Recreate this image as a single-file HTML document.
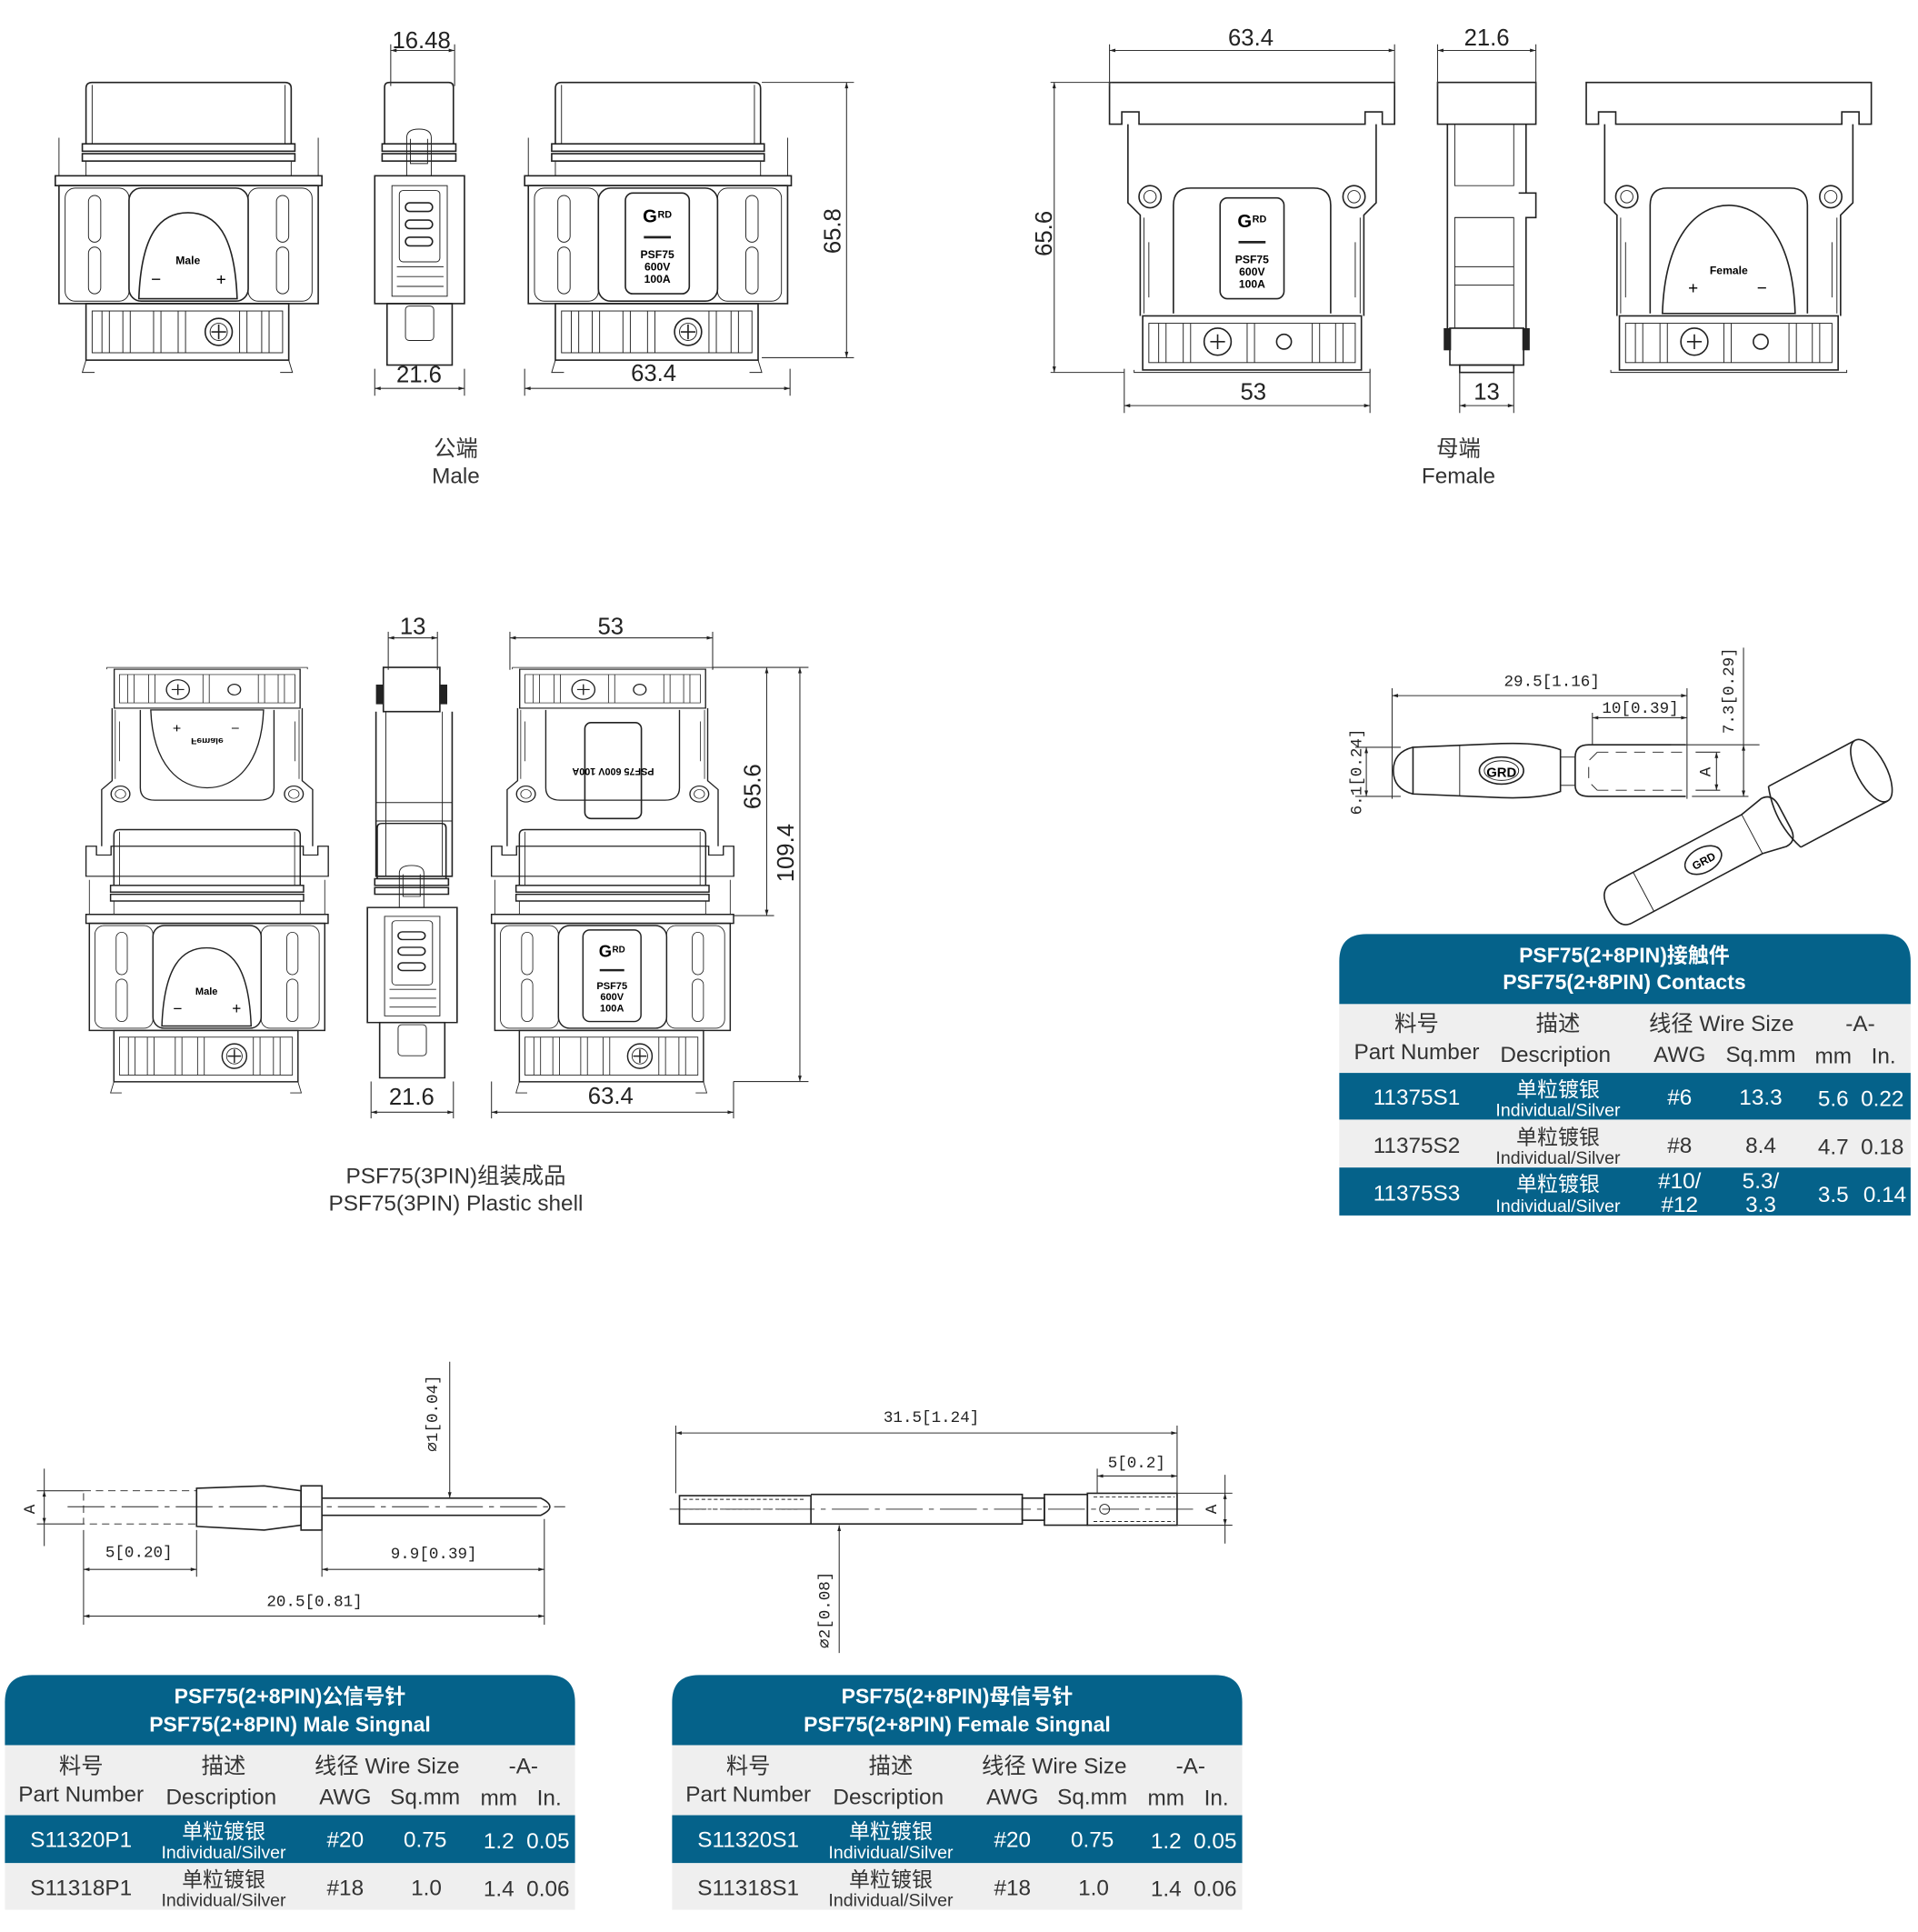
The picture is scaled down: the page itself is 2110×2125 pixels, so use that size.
<!DOCTYPE html>
<html><head><meta charset="utf-8"><style>
html,body{margin:0;padding:0;background:#fff;}
body{width:2110px;height:2125px;overflow:hidden;}
svg{display:block}
.l{fill:none;stroke:#222;stroke-width:1.2}
.t{stroke-width:.7;fill:none;stroke:#222}
.d{stroke:#333;stroke-width:.8;fill:none}
.dt{font-family:"Liberation Sans Narrow","Liberation Sans",sans-serif;font-size:19px;fill:#222;text-anchor:middle}
.st{font-family:"Liberation Mono",monospace;font-size:13px;fill:#222;text-anchor:middle}
.cap{font-family:"Liberation Sans","Noto Sans CJK SC",sans-serif;font-size:18px;fill:#333;text-anchor:middle}
.th{font-family:"Liberation Sans","Noto Sans CJK SC",sans-serif;font-size:17px;font-weight:bold;fill:#fff;text-anchor:middle}
.tg{font-family:"Liberation Sans","Noto Sans CJK SC",sans-serif;font-size:18px;fill:#333;text-anchor:middle}
.tw{font-family:"Liberation Sans","Noto Sans CJK SC",sans-serif;font-size:18px;fill:#fff;text-anchor:middle}
.s1{font-size:17px}.s2{font-size:14.5px}
</style></head><body>
<svg width="2110" height="2125" viewBox="0 0 1561 1572" xmlns="http://www.w3.org/2000/svg">
<defs>
<marker id="a" viewBox="0 0 10 10" refX="10" refY="5" markerWidth="9" markerHeight="6" orient="auto-start-reverse"><path d="M0,2 L10,5 L0,8 Z" fill="#222"/></marker>
<g id="latch">
 <rect x="25" y="180" width="165" height="46" class="l"/>
 <rect x="30" y="186" width="155" height="34" class="t"/>
 <path d="M38,186V220M44,186V220M55,186V220M61,186V220M80,186V220M86,186V220M100,186V220M106,186V220M150,186V220M156,186V220M168,186V220M174,186V220" class="t"/>
 <circle cx="133" cy="203" r="11" class="l"/><circle cx="133" cy="203" r="7" class="t"/>
 <path d="M127,203H139M133,197V209" class="l"/>
 <path d="M25,226L22,236H32M190,226L193,236H183" class="t"/>
</g>
<g id="mbody">
 <path d="M25,50V5Q25,0 30,0H187Q192,0 192,5V50" class="l" stroke-width="1.6"/>
 <path d="M30,2V50M187,2V50" class="t"/>
 <rect x="22" y="50" width="173" height="6" class="l"/><rect x="22" y="58" width="173" height="6" class="l"/>
 <path d="M25,64V76M192,64V76M3,45V76M214,45V76" class="t"/>
 <rect x="0" y="76" width="217" height="8" class="l"/>
 <rect x="3" y="84" width="211" height="96" class="l"/>
 <rect x="8" y="86" width="52" height="92" rx="8" class="t"/>
 <rect x="157" y="86" width="52" height="92" rx="8" class="t"/>
 <rect x="27" y="92" width="10" height="38" rx="5" class="t"/><rect x="27" y="134" width="10" height="38" rx="5" class="t"/>
 <rect x="180" y="92" width="10" height="38" rx="5" class="t"/><rect x="180" y="134" width="10" height="38" rx="5" class="t"/>
 <rect x="60" y="86" width="97" height="92" rx="10" class="l"/>
 <use href="#latch"/>
</g>
<g id="mfront">
 <use href="#mbody"/>
 <path d="M68,176C70,122 86,106 108,106C130,106 146,122 148,176Z" class="l"/>
 <text x="108" y="148" font-family="Liberation Sans" font-size="9" font-weight="bold" text-anchor="middle">Male</text>
 <text x="82" y="165" font-family="Liberation Sans" font-size="14" text-anchor="middle">−</text>
 <text x="135" y="165" font-family="Liberation Sans" font-size="14" text-anchor="middle">+</text>
</g>
<g id="lbl">
 <rect x="0" y="0" width="52" height="82" rx="6" class="l"/>
 <text x="20" y="24" font-family="Liberation Sans" font-size="15" font-weight="bold" text-anchor="middle">G</text>
 <text x="32" y="20" font-family="Liberation Sans" font-size="8" font-weight="bold" text-anchor="middle">RD</text>
 <rect x="15" y="35" width="22" height="2" fill="#222"/>
 <text x="26" y="53" font-family="Liberation Sans" font-size="9" font-weight="bold" text-anchor="middle">PSF75</text>
 <text x="26" y="63" font-family="Liberation Sans" font-size="9" font-weight="bold" text-anchor="middle">600V</text>
 <text x="26" y="73" font-family="Liberation Sans" font-size="9" font-weight="bold" text-anchor="middle">100A</text>
</g>
<g id="mback"><use href="#mbody"/><use href="#lbl" x="82" y="90"/></g>
<g id="mside">
 <path d="M8,50V4Q8,0 12,0H60Q64,0 64,4V50" class="l" stroke-width="1.6"/>
 <rect x="6" y="50" width="60" height="6" class="l"/><rect x="6" y="58" width="60" height="6" class="l"/>
 <path d="M26,76V45Q26,38 36,38Q46,38 46,45V76M29,46V66H43V46" class="t"/>
 <rect x="0" y="76" width="73" height="104" class="l"/>
 <rect x="14" y="84" width="45" height="90" class="t"/>
 <rect x="20" y="88" width="33" height="58" rx="3" class="t"/>
 <rect x="25" y="98" width="22" height="7" rx="3.5" class="l"/><rect x="25" y="112" width="22" height="7" rx="3.5" class="l"/><rect x="25" y="126" width="22" height="7" rx="3.5" class="l"/>
 <path d="M18,150H56M18,158H56M18,166H56" class="t"/>
 <rect x="10" y="180" width="53" height="50" class="l"/>
 <rect x="25" y="182" width="23" height="28" rx="3" class="t"/>
</g>
<g id="fbody">
 <path d="M0,0H232V34H222V24H208V34H24V24H10V34H0Z" class="l"/>
 <path d="M15,34V98L25,108V190M217,34V98L207,108V190" class="l"/>
 <circle cx="33" cy="93" r="9" class="l"/><circle cx="33" cy="93" r="5" class="t"/>
 <circle cx="199" cy="93" r="9" class="l"/><circle cx="199" cy="93" r="5" class="t"/>
 <path d="M28,110V188M204,110V188M32,130V175M200,130V175" class="t"/>
 <path d="M52,188V100Q52,86 66,86H166Q180,86 180,100V188" class="l"/>
 <rect x="27" y="190" width="178" height="44" class="l"/>
 <rect x="32" y="196" width="168" height="32" class="t"/>
 <path d="M40,196V228M46,196V228M60,196V228M66,196V228M112,196V228M118,196V228M165,196V228M171,196V228M184,196V228M190,196V228" class="t"/>
 <circle cx="88" cy="211" r="11" class="l"/><path d="M82,211H94M88,205V217" class="l"/>
 <circle cx="142" cy="211" r="6" class="l" stroke-width="1.8"/>
 <path d="M20,234V236H212V234" class="t"/>
</g>
<g id="ffront"><use href="#fbody"/><use href="#lbl" x="90" y="94"/></g>
<g id="fback"><use href="#fbody"/>
 <path d="M62,188C64,125 90,100 116,100C142,100 168,125 170,188Z" class="l"/>
 <text x="116" y="156" font-family="Liberation Sans" font-size="9" font-weight="bold" text-anchor="middle">Female</text>
 <text x="87" y="172" font-family="Liberation Sans" font-size="14" text-anchor="middle">+</text>
 <text x="143" y="172" font-family="Liberation Sans" font-size="14" text-anchor="middle">−</text>
</g>
</defs>

<!-- TOP ROW male -->
<use href="#mfront" x="45" y="67"/>
<use href="#mside" x="305" y="67"/>
<use href="#mback" x="427" y="67"/>
<path d="M318,41H370M318,36V70M370,36V70" class="d"/><path d="M318,41H370" class="d" marker-start="url(#a)" marker-end="url(#a)"/>
<text x="343" y="39" class="dt">16.48</text>
<path d="M305,300V322M378,300V322M427,300V322M643,300V322" class="d"/>
<path d="M305,316H378" class="d" marker-start="url(#a)" marker-end="url(#a)"/>
<text x="341" y="311" class="dt">21.6</text>
<path d="M427,316H643" class="d" marker-start="url(#a)" marker-end="url(#a)"/>
<text x="532" y="310" class="dt">63.4</text>
<path d="M620,67H695M620,291H695" class="d"/><path d="M689,67V291" class="d" marker-start="url(#a)" marker-end="url(#a)"/>
<text x="0" y="0" class="dt" transform="translate(684,188) rotate(-90)">65.8</text>
<text x="371" y="371" class="cap">公端</text><text x="371" y="393" class="cap">Male</text>

<!-- TOP ROW female -->
<use href="#ffront" x="903" y="67"/>
<use href="#fback" x="1291" y="67"/>
<g transform="translate(1170,67)">
 <rect x="0" y="0" width="80" height="34" class="l"/>
 <path d="M8,34V205M72,34V90M66,90H80V110H72V205" class="l"/>
 <path d="M14,34V84H62V34M14,110H62M14,150H62M14,165H62" class="t"/>
 <rect x="14" y="110" width="48" height="90" class="t"/>
 <rect x="10" y="200" width="60" height="30" class="l"/>
 <rect x="5" y="200" width="6" height="18" fill="#222"/><rect x="69" y="200" width="6" height="18" fill="#222"/>
 <rect x="18" y="230" width="44" height="6" class="l"/>
</g>
<path d="M903,36V70M1135,36V70M1170,36V70M1250,36V70" class="d"/>
<path d="M903,41H1135" class="d" marker-start="url(#a)" marker-end="url(#a)"/><text x="1018" y="37" class="dt">63.4</text>
<path d="M1170,41H1250" class="d" marker-start="url(#a)" marker-end="url(#a)"/><text x="1210" y="37" class="dt">21.6</text>
<path d="M855,67H905M855,303H915" class="d"/><path d="M858,67V303" class="d" marker-start="url(#a)" marker-end="url(#a)"/>
<text x="0" y="0" class="dt" transform="translate(856,190) rotate(-90)">65.6</text>
<path d="M915,300V336M1115,300V336M1188,300V336M1232,300V336" class="d"/>
<path d="M915,330H1115" class="d" marker-start="url(#a)" marker-end="url(#a)"/><text x="1020" y="325" class="dt">53</text>
<path d="M1188,330H1232" class="d" marker-start="url(#a)" marker-end="url(#a)"/><text x="1210" y="325" class="dt">13</text>
<text x="1187" y="371" class="cap">母端</text><text x="1187" y="393" class="cap">Female</text>

<!-- MIDDLE assembly -->
<g transform="translate(70,713) scale(0.85,-0.72)"><use href="#fback"/></g>
<g transform="translate(70,675) scale(0.908,0.908)"><use href="#mfront"/></g>
<g transform="translate(400,713) scale(0.85,-0.72)"><use href="#fbody"/></g>
<g transform="translate(400,675) scale(0.908,0.908)"><use href="#mback"/></g>
<rect x="476" y="588" width="46" height="78" rx="5" class="l"/>
<text x="499" y="605" font-family="Liberation Sans" font-size="8" font-weight="bold" text-anchor="middle" transform="rotate(180,499,615)">PSF75 600V 100A</text>
<g transform="translate(302,543)">
 <rect x="10" y="0" width="46" height="36" class="l"/><rect x="4" y="14" width="6" height="16" fill="#222"/><rect x="56" y="14" width="6" height="16" fill="#222"/>
 <path d="M4,36V170H66V36" class="l"/><path d="M12,36V170M58,36V170M4,110H66M4,125H66" class="t"/>
 <g transform="translate(-3,127) scale(1,0.9)"><use href="#mside"/></g>
</g>
<path d="M316,514V545M356,514V545" class="d"/><path d="M316,519H356" class="d" marker-start="url(#a)" marker-end="url(#a)"/><text x="336" y="516" class="dt">13</text>
<path d="M415,514V545M580,514V545" class="d"/><path d="M415,519H580" class="d" marker-start="url(#a)" marker-end="url(#a)"/><text x="497" y="516" class="dt">53</text>
<path d="M302,880V910M369,880V910M400,880V910M597,880V910" class="d"/>
<path d="M302,905H369" class="d" marker-start="url(#a)" marker-end="url(#a)"/><text x="335" y="899" class="dt">21.6</text>
<path d="M400,905H597" class="d" marker-start="url(#a)" marker-end="url(#a)"/><text x="497" y="898" class="dt">63.4</text>
<path d="M580,543H658M597,745H630M597,880H658" class="d"/>
<path d="M624,543V745" class="d" marker-start="url(#a)" marker-end="url(#a)"/><text class="dt" transform="translate(619,640) rotate(-90)">65.6</text>
<path d="M651,543V880" class="d" marker-start="url(#a)" marker-end="url(#a)"/><text class="dt" transform="translate(646,694) rotate(-90)">109.4</text>
<text x="371" y="963" class="cap">PSF75(3PIN)组装成品</text><text x="371" y="985" class="cap">PSF75(3PIN) Plastic shell</text>

<!-- CONTACT drawing -->
<g>
 <path d="M1150,608L1222,605Q1255,604 1270,610L1270,644Q1255,650 1222,649L1150,646Z" class="l"/>
 <path d="M1150,608Q1134,612 1134,627Q1134,642 1150,646" class="l"/>
 <path d="M1188,606V648" class="t"/>
 <ellipse cx="1222" cy="627" rx="18" ry="11" class="l"/><ellipse cx="1222" cy="627" rx="14" ry="8" class="t"/>
 <text x="1222" y="632" font-family="Liberation Sans" font-size="11" font-weight="bold" text-anchor="middle">GRD</text>
 <rect x="1270" y="616" width="12" height="23" class="t"/>
 <path d="M1293,606H1372M1293,648H1372M1293,606Q1282,606 1282,616V639Q1282,648 1293,648" class="l"/>
 <path d="M1300,612H1375M1300,643H1375M1300,612L1293,619V636L1300,643" class="t" stroke-dasharray="9,6"/>
 <path d="M1133,560V650M1296,580V606M1373,560V650" class="d"/>
 <path d="M1133,566H1373" class="d" marker-start="url(#a)" marker-end="url(#a)"/><text x="1263" y="558" class="st">29.5[1.16]</text>
 <path d="M1296,584H1373" class="d" marker-start="url(#a)" marker-end="url(#a)"/><text x="1335" y="580" class="st">10[0.39]</text>
 <path d="M1103,608H1140M1103,648H1140M1380,612H1400M1380,643H1400M1377,648H1423M1360,606H1432" class="d"/>
 <path d="M1112,608V648" class="d" marker-start="url(#a)" marker-end="url(#a)"/><text class="st" transform="translate(1108,628) rotate(-90)">6.1[0.24]</text>
 <path d="M1397,612V643" class="d" marker-start="url(#a)" marker-end="url(#a)"/><text x="0" y="0" class="st" transform="translate(1392,628) rotate(-90)">A</text>
 <path d="M1419,527V648" class="d"/><path d="M1419,606V648" class="d" marker-start="url(#a)" marker-end="url(#a)"/>
 <text class="st" transform="translate(1411,562) rotate(-90)">7.3[0.29]</text>
 <g transform="translate(1320,735) rotate(-28)">
  <path d="M0,-18H120L140,-22Q150,-22 150,-10V10Q150,22 140,22L120,18H0Q-12,18 -12,0Q-12,-18 0,-18Z" class="l"/>
  <path d="M20,-18V18M120,-18V18" class="t"/>
  <ellipse cx="75" cy="0" rx="16" ry="10" class="l"/><text x="75" y="4" font-family="Liberation Sans" font-size="9" font-weight="bold" text-anchor="middle">GRD</text>
  <path d="M150,-28H230M150,28H230" class="l"/><path d="M150,-28Q140,0 150,28" class="l"/>
  <ellipse cx="230" cy="0" rx="12" ry="28" class="l"/>
 </g>
</g>

<!-- MALE SIGNAL pin -->
<g>
 <rect x="68" y="1213" width="92" height="27" class="t" stroke-dasharray="6,4"/>
 <path d="M160,1211L215,1209L245,1213V1241L215,1245L160,1242Z" class="l"/>
 <rect x="245" y="1209" width="17" height="36" class="l"/>
 <path d="M262,1219H440Q455,1226 440,1233H262" class="l"/>
 <path d="M55,1226H460" class="t" stroke-dasharray="30,5,4,5"/>
 <path d="M30,1213H68M30,1240H68M68,1245V1283M160,1245V1283M262,1245V1283M443,1236V1322M68,1283V1322" class="d"/>
 <path d="M36,1195V1213M36,1240V1258" class="d"/>
 <path d="M36,1213V1240" class="d" marker-start="url(#a)" marker-end="url(#a)"/><text class="st" transform="translate(28,1228) rotate(-90)">A</text>
 <path d="M366,1108V1219" class="d" marker-end="url(#a)"/><text class="st" transform="translate(356,1150) rotate(-90)">⌀1[0.04]</text>
 <path d="M68,1277H160" class="d" marker-start="url(#a)" marker-end="url(#a)"/><text x="113" y="1267" class="st">5[0.20]</text>
 <path d="M262,1277H443" class="d" marker-start="url(#a)" marker-end="url(#a)"/><text x="353" y="1268" class="st">9.9[0.39]</text>
 <path d="M68,1315H443" class="d" marker-start="url(#a)" marker-end="url(#a)"/><text x="256" y="1307" class="st">20.5[0.81]</text>
</g>

<!-- FEMALE SIGNAL pin -->
<g>
 <rect x="553" y="1217" width="107" height="23" class="l"/>
 <path d="M556,1220H655M556,1228H650" class="t" stroke-dasharray="3,2"/>
 <path d="M660,1216H832V1240H660" class="l"/>
 <rect x="832" y="1219" width="18" height="18" class="l"/>
 <rect x="850" y="1216" width="35" height="25" class="l"/>
 <path d="M885,1215H958V1241H885Z" class="l"/>
 <path d="M890,1218H956M890,1238H956" class="t" stroke-dasharray="3,2"/>
 <circle cx="899" cy="1228" r="4" class="t"/>
 <path d="M545,1228H975" class="t" stroke-dasharray="30,5,4,5"/>
 <path d="M550,1160V1215M958,1160V1215M893,1195V1215M958,1215H1003M958,1241H1003" class="d"/>
 <path d="M550,1166H958" class="d" marker-start="url(#a)" marker-end="url(#a)"/><text x="758" y="1157" class="st">31.5[1.24]</text>
 <path d="M893,1201H958" class="d" marker-start="url(#a)" marker-end="url(#a)"/><text x="925" y="1194" class="st">5[0.2]</text>
 <path d="M997,1200V1215M997,1241V1256" class="d"/><path d="M997,1215V1241" class="d" marker-start="url(#a)" marker-end="url(#a)"/>
 <text class="st" transform="translate(990,1228) rotate(-90)">A</text>
 <path d="M683,1345V1241" class="d" marker-end="url(#a)"/><text class="st" transform="translate(675,1310) rotate(-90)">⌀2[0.08]</text>
</g>

<!-- CONTACTS TABLE -->
<g>
 <path d="M1090,817V782Q1090,760 1112,760H1533Q1555,760 1555,782V817Z" fill="#05628a"/>
 <text x="1322" y="783" class="th">PSF75(2+8PIN)接触件</text>
 <text x="1322" y="805" class="th">PSF75(2+8PIN) Contacts</text>
 <rect x="1090" y="817" width="465" height="56" fill="#efefef"/>
 <text x="1153" y="839" class="tg">料号</text><text x="1268" y="839" class="tg">描述</text><text x="1401" y="839" class="tg">线径 Wire Size</text><text x="1514" y="839" class="tg">-A-</text>
 <text x="1153" y="862" class="tg">Part Number</text><text x="1266" y="864" class="tg">Description</text><text x="1367" y="864" class="tg">AWG</text><text x="1433" y="864" class="tg">Sq.mm</text><text x="1492" y="865" class="tg">mm</text><text x="1533" y="865" class="tg">In.</text>
 <rect x="1090" y="873" width="465" height="38" fill="#05628a"/>
 <rect x="1090" y="911" width="465" height="39" fill="#efefef"/>
 <rect x="1090" y="950" width="465" height="39" fill="#05628a"/>
 <text x="1153" y="899" class="tw">11375S1</text><text x="1268" y="892" class="tw s1">单粒镀银</text><text x="1268" y="908" class="tw s2">Individual/Silver</text><text x="1367" y="899" class="tw">#6</text><text x="1433" y="899" class="tw">13.3</text><text x="1492" y="900" class="tw">5.6</text><text x="1532" y="900" class="tw">0.22</text>
 <text x="1153" y="938" class="tg">11375S2</text><text x="1268" y="931" class="tg s1">单粒镀银</text><text x="1268" y="947" class="tg s2">Individual/Silver</text><text x="1367" y="938" class="tg">#8</text><text x="1433" y="938" class="tg">8.4</text><text x="1492" y="939" class="tg">4.7</text><text x="1532" y="939" class="tg">0.18</text>
 <text x="1153" y="977" class="tw">11375S3</text><text x="1268" y="969" class="tw s1">单粒镀银</text><text x="1268" y="986" class="tw s2">Individual/Silver</text><text x="1367" y="967" class="tw">#10/</text><text x="1367" y="986" class="tw">#12</text><text x="1433" y="967" class="tw">5.3/</text><text x="1433" y="986" class="tw">3.3</text><text x="1492" y="978" class="tw">3.5</text><text x="1534" y="978" class="tw">0.14</text>
</g>

<!-- MALE SIGNAL TABLE -->
<g>
 <path d="M4,1420V1385Q4,1363 26,1363H446Q468,1363 468,1385V1420Z" fill="#05628a"/>
 <text x="236" y="1386" class="th">PSF75(2+8PIN)公信号针</text>
 <text x="236" y="1409" class="th">PSF75(2+8PIN) Male Singnal</text>
 <rect x="4" y="1420" width="464" height="57" fill="#efefef"/>
 <text x="66" y="1443" class="tg">料号</text><text x="182" y="1443" class="tg">描述</text><text x="315" y="1443" class="tg">线径 Wire Size</text><text x="426" y="1443" class="tg">-A-</text>
 <text x="66" y="1466" class="tg">Part Number</text><text x="180" y="1468" class="tg">Description</text><text x="281" y="1468" class="tg">AWG</text><text x="346" y="1468" class="tg">Sq.mm</text><text x="406" y="1469" class="tg">mm</text><text x="447" y="1469" class="tg">In.</text>
 <rect x="4" y="1477" width="464" height="39" fill="#05628a"/>
 <rect x="4" y="1516" width="464" height="38" fill="#efefef"/>
 <text x="66" y="1503" class="tw">S11320P1</text><text x="182" y="1496" class="tw s1">单粒镀银</text><text x="182" y="1512" class="tw s2">Individual/Silver</text><text x="281" y="1503" class="tw">#20</text><text x="346" y="1503" class="tw">0.75</text><text x="406" y="1504" class="tw">1.2</text><text x="446" y="1504" class="tw">0.05</text>
 <text x="66" y="1542" class="tg">S11318P1</text><text x="182" y="1535" class="tg s1">单粒镀银</text><text x="182" y="1551" class="tg s2">Individual/Silver</text><text x="281" y="1542" class="tg">#18</text><text x="347" y="1542" class="tg">1.0</text><text x="406" y="1543" class="tg">1.4</text><text x="446" y="1543" class="tg">0.06</text>
</g>

<!-- FEMALE SIGNAL TABLE -->
<g transform="translate(543,0)">
 <path d="M4,1420V1385Q4,1363 26,1363H446Q468,1363 468,1385V1420Z" fill="#05628a"/>
 <text x="236" y="1386" class="th">PSF75(2+8PIN)母信号针</text>
 <text x="236" y="1409" class="th">PSF75(2+8PIN) Female Singnal</text>
 <rect x="4" y="1420" width="464" height="57" fill="#efefef"/>
 <text x="66" y="1443" class="tg">料号</text><text x="182" y="1443" class="tg">描述</text><text x="315" y="1443" class="tg">线径 Wire Size</text><text x="426" y="1443" class="tg">-A-</text>
 <text x="66" y="1466" class="tg">Part Number</text><text x="180" y="1468" class="tg">Description</text><text x="281" y="1468" class="tg">AWG</text><text x="346" y="1468" class="tg">Sq.mm</text><text x="406" y="1469" class="tg">mm</text><text x="447" y="1469" class="tg">In.</text>
 <rect x="4" y="1477" width="464" height="39" fill="#05628a"/>
 <rect x="4" y="1516" width="464" height="38" fill="#efefef"/>
 <text x="66" y="1503" class="tw">S11320S1</text><text x="182" y="1496" class="tw s1">单粒镀银</text><text x="182" y="1512" class="tw s2">Individual/Silver</text><text x="281" y="1503" class="tw">#20</text><text x="346" y="1503" class="tw">0.75</text><text x="406" y="1504" class="tw">1.2</text><text x="446" y="1504" class="tw">0.05</text>
 <text x="66" y="1542" class="tg">S11318S1</text><text x="182" y="1535" class="tg s1">单粒镀银</text><text x="182" y="1551" class="tg s2">Individual/Silver</text><text x="281" y="1542" class="tg">#18</text><text x="347" y="1542" class="tg">1.0</text><text x="406" y="1543" class="tg">1.4</text><text x="446" y="1543" class="tg">0.06</text>
</g>
</svg>
</body></html>
